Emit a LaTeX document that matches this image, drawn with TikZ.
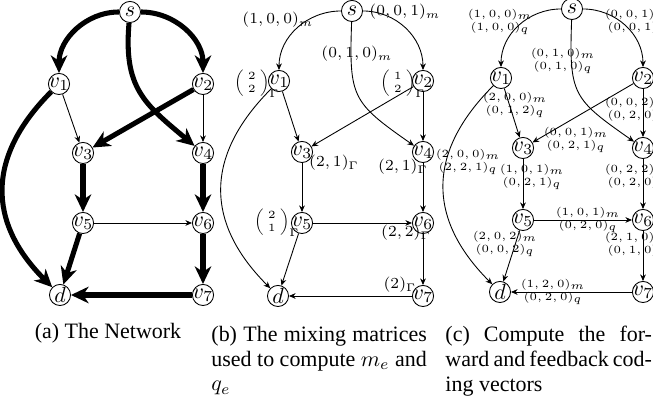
\documentclass[tikz,border=0pt]{standalone}
\usepackage[no-math]{fontspec}
\setmainfont{Liberation Serif}
\usepackage{amsmath}
\usetikzlibrary{arrows.meta}

\newcommand{\gmat}[2]{\left(\begin{array}{@{\;}c@{\;}}#1\\#2\end{array}\right)_{\Gamma}}

\tikzset{
  vtx/.style={draw,circle,inner sep=-0.5pt,minimum size=9.6pt},
  thk/.style={line width=2.3pt,-{Stealth[length=8pt,width=7.5pt,inset=2.5pt]}},
  thn/.style={-{Stealth[length=3pt,width=2.6pt]}},
  lbb/.style={font=\scriptsize,inner sep=0pt},
  lbm/.style={font=\tiny,inner sep=0pt},
  lbc/.style={font=\tiny,inner sep=0pt,align=center},
  captxt/.style={font=\fontsize{10}{11.2}\selectfont,inner sep=0pt}
}

\begin{document}
\begin{tikzpicture}[x=0.455pt,y=0.455pt]
\useasboundingbox (0,0) rectangle (653,398);

% (a) the network
\node[vtx] (sa) at (130,386) {$s$};
\node[vtx] (v1a) at (59,314) {$v_1$};
\node[vtx] (v2a) at (203,314) {$v_2$};
\node[vtx] (v3a) at (83,245) {$v_3$};
\node[vtx] (v4a) at (203,245) {$v_4$};
\node[vtx] (v5a) at (83,175) {$v_5$};
\node[vtx] (v6a) at (203,175) {$v_6$};
\node[vtx] (da) at (60,103) {$d$};
\node[vtx] (v7a) at (203,103) {$v_7$};
\draw[thk] (sa) to[out=180,in=90] (v1a);
\draw[thk] (sa) to[out=0,in=90] (v2a);
\draw[thk] (sa) to[out=-95,in=140,looseness=1.2] (v4a);
\draw[thk] (v2a) -- (v3a);
\draw[thn] (v1a) -- (v3a);
\draw[thn] (v2a) -- (v4a);
\draw[thk] (v3a) -- (v5a);
\draw[thk] (v4a) -- (v6a);
\draw[thn] (v5a) -- (v6a);
\draw[thk] (v5a) -- (da);
\draw[thk] (v1a) to[out=-135,in=135,looseness=1.2] (da);
\draw[thk] (v6a) -- (v7a);
\draw[thk] (v7a) -- (da);
\node[captxt,anchor=base] (capa) at (108,59) {(a) The Network};

% (b) mixing matrices
\node[vtx] (sb) at (352,387) {$s$};
\node[vtx] (v1b) at (279,317) {$v_1$};
\node[vtx] (v2b) at (423,317) {$v_2$};
\node[vtx] (v3b) at (302,246) {$v_3$};
\node[vtx] (v4b) at (423,246) {$v_4$};
\node[vtx] (v5b) at (302,175) {$v_5$};
\node[vtx] (v6b) at (423,175) {$v_6$};
\node[vtx] (db) at (278,102) {$d$};
\node[vtx] (v7b) at (423,102) {$v_7$};
\draw[thn] (sb) to[out=180,in=90] (v1b);
\draw[thn] (sb) to[out=0,in=90] (v2b);
\draw[thn] (sb) to[out=-92,in=145,looseness=1.4] (v4b);
\draw[thn] (v2b) -- (v3b);
\draw[thn] (v1b) -- (v3b);
\draw[thn] (v2b) -- (v4b);
\draw[thn] (v3b) -- (v5b);
\draw[thn] (v4b) -- (v6b);
\draw[thn] (v5b) -- (v6b);
\draw[thn] (v5b) -- (db);
\draw[thn] (v1b) to[out=-135,in=135,looseness=1.2] (db);
\draw[thn] (v6b) -- (v7b);
\draw[thn] (v7b) -- (db);
\node[lbb] (msv1) at (278,378) {$(1,0,0)_m$};
\node[lbb] (msv2) at (405,386) {$(0,0,1)_m$};
\node[lbb] (msv4) at (357,344) {$(0,1,0)_m$};
\node[lbm] (gv1) at (257,314) {$\gmat{2}{2}$};
\node[lbm] (gv2) at (403,314) {$\gmat{1}{2}$};
\node[lbb] (gv3) at (334,235) {$(2,1)_{\Gamma}$};
\node[lbb] (gv4) at (403,231) {$(2,1)_{\Gamma}$};
\node[lbm] (gv5) at (277,175) {$\gmat{2}{1}$};
\node[lbb] (gv6) at (406,165) {$(2,2)_{\Gamma}$};
\node[lbb] (gv7) at (400,113) {$(2)_{\Gamma}$};
\node[captxt,anchor=north west,text width=98pt,align=justify] (capb) at (211,72)
  {(b) The mixing matrices\linebreak used to compute $m_e$ and\linebreak $q_e$};

% (c) forward and feedback coding vectors
\node[vtx] (sc) at (572,389) {$s$};
\node[vtx] (v1c) at (501,320) {$v_1$};
\node[vtx] (v2c) at (643,320) {$v_2$};
\node[vtx] (v3c) at (523,250) {$v_3$};
\node[vtx] (v4c) at (643,250) {$v_4$};
\node[vtx] (v5c) at (523,178) {$v_5$};
\node[vtx] (v6c) at (643,178) {$v_6$};
\node[vtx] (dc) at (500,106) {$d$};
\node[vtx] (v7c) at (643,106) {$v_7$};
\draw[thn] (sc) to[out=180,in=90] (v1c);
\draw[thn] (sc) to[out=0,in=90] (v2c);
\draw[thn] (sc) to[out=-92,in=145,looseness=1.4] (v4c);
\draw[thn] (v2c) -- (v3c);
\draw[thn] (v1c) -- (v3c);
\draw[thn] (v2c) -- (v4c);
\draw[thn] (v3c) -- (v5c);
\draw[thn] (v4c) -- (v6c);
\draw[thn] (v5c) -- (v6c);
\draw[thn] (v5c) -- (dc);
\draw[thn] (v1c) to[out=-135,in=135,looseness=1.2] (dc);
\draw[thn] (v6c) -- (v7c);
\draw[thn] (v7c) -- (dc);
\node[lbc] (csv1) at (500,376) {$(1,0,0)_m$\\$(1,0,0)_q$};
\node[lbc] (csv2) at (637,376) {$(0,0,1)_m$\\$(0,0,1)_q$};
\node[lbc] (csv4) at (563,337) {$(0,1,0)_m$\\$(0,1,0)_q$};
\node[lbc] (cv1v3) at (515,293) {$(2,0,0)_m$\\$(0,1,2)_q$};
\node[lbc] (cv2v4) at (637,288) {$(0,0,2)_m$\\$(0,2,0)_q$};
\node[lbc] (cv2v3) at (576,258) {$(0,0,1)_m$\\$(0,2,1)_q$};
\node[lbc] (cv1d) at (468,236) {$(2,0,0)_m$\\$(2,2,1)_q$};
\node[lbc] (cv3v5) at (532,221) {$(1,0,1)_m$\\$(0,2,1)_q$};
\node[lbc] (cv4v6) at (637,221) {$(0,2,2)_m$\\$(0,2,0)_q$};
\node[lbc] (cv5v6) at (588,178) {$(1,0,1)_m$\\$(0,2,0)_q$};
\node[lbc] (cv5d) at (505,154) {$(2,0,2)_m$\\$(0,0,2)_q$};
\node[lbc] (cv6v7) at (637,153) {$(2,1,0)_m$\\$(0,1,0)_q$};
\node[lbc] (cv7d) at (553,106) {$(1,2,0)_m$\\$(0,2,0)_q$};
\node[captxt,anchor=north west,text width=94pt,align=justify] (capc) at (445,72)
  {(c) Compute the for-\linebreak ward and feedback cod-\linebreak ing vectors};
\end{tikzpicture}
\end{document}
